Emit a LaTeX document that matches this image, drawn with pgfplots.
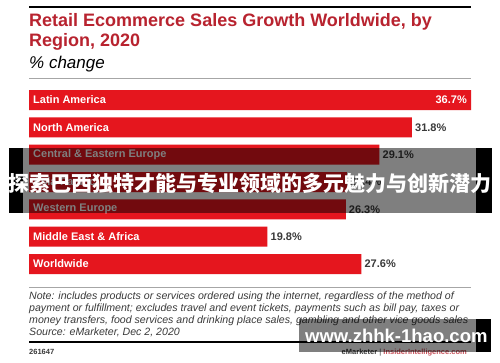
\documentclass[border=0pt]{standalone}
\usepackage{fontspec}
\setmainfont{Liberation Sans}
\newfontfamily\cjk{Noto Sans CJK SC}
\usepackage{pgfplots}
\pgfplotsset{compat=1.18}
\definecolor{barred}{HTML}{E5161E}
\definecolor{titlered}{HTML}{B8232F}
\definecolor{notegray}{HTML}{3A3A3A}
\begin{document}
\begin{tikzpicture}[x=1pt,y=1pt]
\path[fill=white] (0,0) rectangle (500,362);
\draw[black, line width=2.5pt] (29,355) -- (471,355);
\node[anchor=base west, inner sep=0, text=titlered, font=\fontsize{18}{20}\selectfont\bfseries] at (29,335) {Retail Ecommerce Sales Growth Worldwide, by};
\node[anchor=base west, inner sep=0, text=titlered, font=\fontsize{18}{20}\selectfont\bfseries] at (29,315) {Region, 2020};
\node[anchor=base west, inner sep=0, text=black, font=\fontsize{17}{18}\selectfont\itshape] at (29,293) {\% change};
\draw[gray!70, line width=0.8pt] (29,284) -- (471,284);
\begin{scope}[shift={(29pt,84.33pt)}]
\begin{axis}[anchor=south west, scale only axis, width=442pt, height=191.33pt,
  xmin=0, xmax=36.7, ymin=-0.5, ymax=6.5, axis lines=none, ticks=none, clip=false]
\addplot[xbar, bar width=20pt, fill=barred, draw=none] coordinates {(36.7,6) (31.8,5) (29.1,4) (26.4,3) (26.3,2) (19.8,1) (27.6,0)};
\addplot[draw=none, point meta=explicit symbolic, nodes near coords,
  every node near coord/.append style={anchor=west, font=\fontsize{11}{13}\selectfont\bfseries, text=white, inner sep=0, xshift=4pt}]
  coordinates {(0,6) [Latin America] (0,5) [North America] (0,4) [Central \& Eastern Europe] (0,3) [Asia-Pacific] (0,2) [Western Europe] (0,1) [Middle East \& Africa] (0,0) [Worldwide]};
\addplot[draw=none, point meta=explicit symbolic, nodes near coords,
  every node near coord/.append style={anchor=west, font=\fontsize{11}{13}\selectfont\bfseries, text=notegray, inner sep=0, xshift=3pt}]
  coordinates {(31.8,5) [31.8\%] (29.1,4) [29.1\%] (26.4,3) [26.4\%] (26.3,2) [26.3\%] (19.8,1) [19.8\%] (27.6,0) [27.6\%]};
\addplot[draw=none, point meta=explicit symbolic, nodes near coords,
  every node near coord/.append style={anchor=east, font=\fontsize{11}{13}\selectfont\bfseries, text=white, inner sep=0, xshift=-4pt}]
  coordinates {(36.7,6) [36.7\%]};
\end{axis}
\end{scope}
\draw[gray!70, line width=0.8pt] (29,75) -- (471,75);
\begin{scope}[every node/.style={anchor=base west, inner sep=0, text=notegray, font=\fontsize{10.6}{12}\selectfont\itshape}]
\node at (29,63) {Note: includes products or services ordered using the internet, regardless of the method of};
\node at (29,51) {payment or fulfillment; excludes travel and event tickets, payments such as bill pay, taxes or};
\node at (29,39) {money transfers, food services and drinking place sales, gambling and other vice goods sales};
\node at (29,27) {Source: eMarketer, Dec 2, 2020};
\end{scope}
\draw[black, line width=2.5pt] (29,20) -- (471,20);
\node[anchor=base west, inner sep=0, font=\fontsize{7.5}{9}\selectfont\bfseries, text=notegray] at (29,8) {261647};
\node[anchor=base east, inner sep=0, font=\fontsize{7.5}{9}\selectfont\bfseries] at (467,8) {\textcolor{notegray}{eMarketer} \textcolor{gray}{|} \textcolor{titlered!80}{InsiderIntelligence.com}};
% overlay banners
\fill[black, opacity=0.5] (23,149) rectangle (476,214);
\fill[black] (9,149) rectangle (23,214);
\fill[black] (476,149) rectangle (492,214);
\node[inner sep=0, text=white, font=\cjk\bfseries\fontsize{21}{21}\selectfont] at (250,178) {探索巴西独特才能与专业领域的多元魅力与创新潜力};
\fill[black, opacity=0.5] (299,10) rectangle (476,43);
\fill[black] (476,10) rectangle (491,43);
\node[anchor=base west, inner sep=0, text=white, font=\bfseries\fontsize{18.5}{18.5}\selectfont] at (305,20) {www.zhhk-1hao.com};
\end{tikzpicture}
\end{document}
